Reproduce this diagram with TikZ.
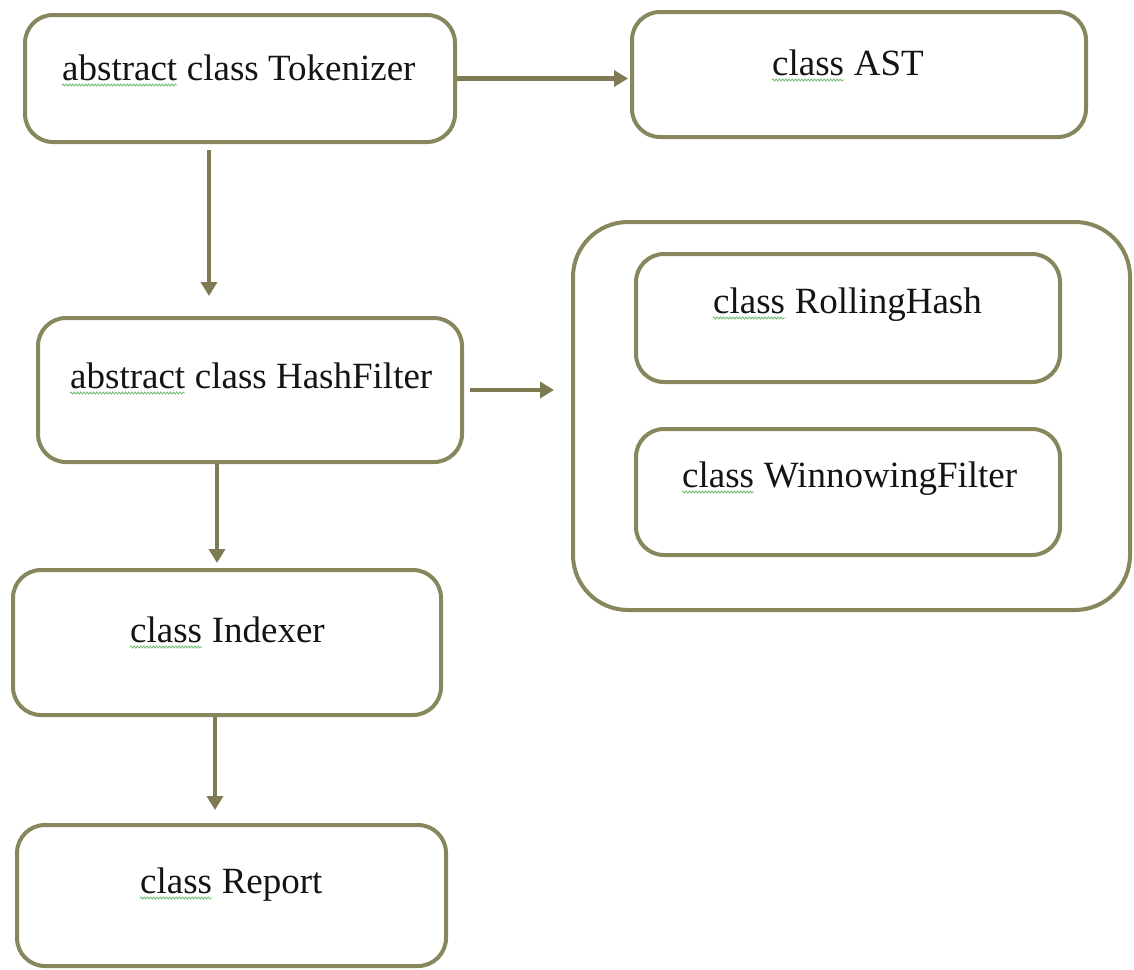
\documentclass[tikz,border=0pt]{standalone}
\usepackage{fontspec}
\setmainfont{Liberation Serif}
\usetikzlibrary{arrows.meta,decorations.pathmorphing}

\definecolor{olive}{RGB}{136,134,92}
\definecolor{arrowcol}{RGB}{126,123,82}
\definecolor{squiggle}{RGB}{120,192,120}
\definecolor{ink}{RGB}{20,20,20}

\tikzset{
  box/.style={draw=olive, line width=4pt, rectangle, rounded corners=28pt, fill=white, inner sep=0pt},
  lbl/.style={inner sep=0pt, anchor=base west, text=ink, font=\fontsize{37}{41}\selectfont},
  flow/.style={draw=arrowcol, line width=4.5pt, -{Triangle[width=16pt,length=14pt]}},
  wavy/.style={draw=squiggle, line width=0.9pt, decorate,
    decoration={snake, segment length=3.2pt, amplitude=1pt}},
}

\begin{document}
\begin{tikzpicture}[x=1pt,y=-1pt]
  \useasboundingbox (0,0) rectangle (1134,969);

  % class boxes
  \node[box, minimum width=430pt, minimum height=127pt] (tok) at (240,78.5) {};
  \node[box, minimum width=454pt, minimum height=125pt] (ast) at (859,74.5) {};
  \node[box, minimum width=424pt, minimum height=144pt] (hash) at (250,390) {};
  \node[box, minimum width=557pt, minimum height=388pt, rounded corners=55pt] (grp) at (851.5,416) {};
  \node[box, minimum width=424pt, minimum height=128pt] (roll) at (848,318) {};
  \node[box, minimum width=424pt, minimum height=126pt] (win) at (848,492) {};
  \node[box, minimum width=428pt, minimum height=145pt] (idx) at (227,642.5) {};
  \node[box, minimum width=429pt, minimum height=141pt] (rep) at (231.5,895.5) {};

  % labels: first word and the rest
  \node[lbl] (tokA) at (62,80) {abstract};
  \node[lbl] (tokB) at ([xshift=9.25pt]tokA.base east) {class Tokenizer};
  \node[lbl] (astA) at (772,75) {class};
  \node[lbl] (astB) at ([xshift=9.25pt]astA.base east) {AST};
  \node[lbl] (hashA) at (70,388) {abstract};
  \node[lbl] (hashB) at ([xshift=9.25pt]hashA.base east) {class HashFilter};
  \node[lbl] (rollA) at (713,313) {class};
  \node[lbl] (rollB) at ([xshift=9.25pt]rollA.base east) {RollingHash};
  \node[lbl] (winA) at (682,487) {class};
  \node[lbl] (winB) at ([xshift=9.25pt]winA.base east) {WinnowingFilter};
  \node[lbl] (idxA) at (130,642) {class};
  \node[lbl] (idxB) at ([xshift=9.25pt]idxA.base east) {Indexer};
  \node[lbl] (repA) at (140,893) {class};
  \node[lbl] (repB) at ([xshift=9.25pt]repA.base east) {Report};

  % wavy underlines under the first words
  \foreach \w in {tokA,astA,hashA,rollA,winA,idxA,repA}
    \draw[wavy] ([yshift=-5pt]\w.base west) -- ([yshift=-5pt]\w.base east);

  % connectors
  \draw[flow, shorten >=2pt] (tok.east) -- (tok.east -| ast.west);
  \draw[flow, shorten <=6pt, shorten >=20pt] ([xshift=-31pt]tok.south) -- ([xshift=-31pt]tok.south |- hash.north);
  \draw[flow, shorten <=6pt, shorten >=17pt] (hash.east) -- (hash.east -| grp.west);
  \draw[flow, shorten >=5pt] ([xshift=-33pt]hash.south) -- ([xshift=-33pt]hash.south |- idx.north);
  \draw[flow, shorten >=13pt] ([xshift=-12pt]idx.south) -- ([xshift=-12pt]idx.south |- rep.north);
\end{tikzpicture}
\end{document}
